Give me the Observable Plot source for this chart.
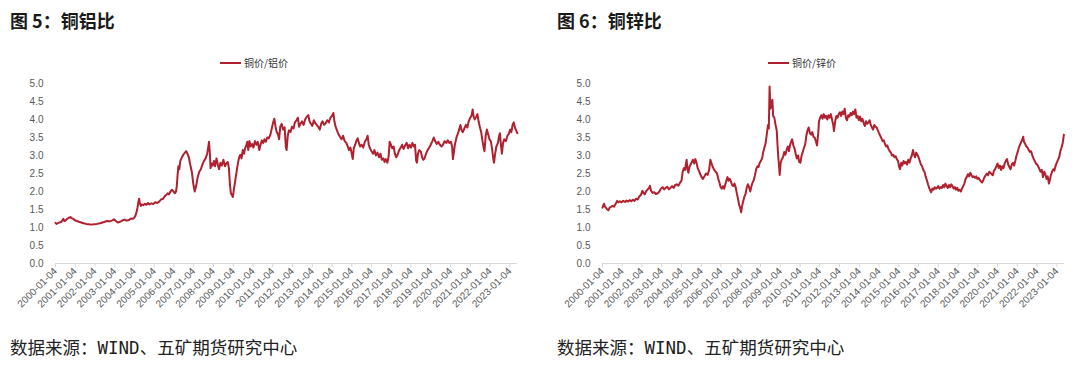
<!DOCTYPE html>
<html>
<head>
<meta charset="utf-8">
<script src="https://cdn.jsdelivr.net/npm/d3@7"></script>
<script src="https://cdn.jsdelivr.net/npm/@observablehq/plot@0.6"></script>
<style>
  html, body { margin: 0; padding: 0; background: #fff; }
  body { width: 1080px; height: 367px; position: relative; overflow: hidden; }
  .title { position: absolute; font-family: "Noto Sans CJK SC", sans-serif; font-weight: bold; font-size: 18px; line-height: 18px; color: #1a1a1a; white-space: nowrap; }
  .legend { position: absolute; font-family: "Noto Sans CJK SC", sans-serif; font-size: 10px; line-height: 12px; color: #333; display: flex; align-items: center; white-space: nowrap; }
  .legend .sw { display: inline-block; width: 21px; height: 2px; background: #B0202E; margin-right: 3px; }
  .footer { position: absolute; font-family: "DejaVu Sans Mono", "Noto Sans CJK SC", monospace; font-size: 17.5px; line-height: 18px; color: #222; white-space: nowrap; }
  .chart { position: absolute; top: 70px; }
</style>
</head>
<body>
<div class="title" style="left:10px; top:11px;">图 5：铜铝比</div>
<div class="legend" style="left:220px; top:57px;"><span class="sw"></span><span>铜价/铝价</span></div>
<div class="chart" id="c1" style="left:0px;"></div>
<div class="footer" style="left:10px; top:339px;">数据来源：WIND、五矿期货研究中心</div>

<div class="title" style="left:557px; top:11px;">图 6：铜锌比</div>
<div class="legend" style="left:768px; top:57px;"><span class="sw"></span><span>铜价/锌价</span></div>
<div class="chart" id="c2" style="left:547px;"></div>
<div class="footer" style="left:557px; top:339px;">数据来源：WIND、五矿期货研究中心</div>

<script>
// ---- data (decimal year, ratio) ----
const cuAl = [
[2000.00,1.13],[2000.05,1.10],[2000.12,1.12],[2000.20,1.14],[2000.28,1.15],[2000.35,1.20],[2000.40,1.24],[2000.45,1.18],
[2000.52,1.20],[2000.60,1.24],[2000.68,1.27],[2000.76,1.29],[2000.82,1.26],[2000.90,1.24],[2000.98,1.20],[2001.08,1.18],
[2001.18,1.16],[2001.30,1.14],[2001.42,1.12],[2001.55,1.10],[2001.68,1.09],[2001.80,1.08],[2001.95,1.09],[2002.10,1.10],
[2002.25,1.12],[2002.38,1.14],[2002.50,1.16],[2002.62,1.18],[2002.75,1.17],[2002.88,1.20],[2002.96,1.23],[2003.05,1.18],
[2003.15,1.14],[2003.28,1.16],[2003.40,1.20],[2003.50,1.22],[2003.60,1.19],[2003.72,1.21],[2003.82,1.25],[2003.92,1.24],
[2004.00,1.28],[2004.06,1.35],[2004.10,1.42],[2004.15,1.55],[2004.20,1.72],[2004.23,1.80],[2004.27,1.68],[2004.32,1.60],
[2004.38,1.64],[2004.45,1.62],[2004.52,1.66],[2004.60,1.63],[2004.68,1.68],[2004.75,1.64],[2004.85,1.67],[2004.95,1.65],
[2005.05,1.70],[2005.15,1.68],[2005.25,1.72],[2005.35,1.78],[2005.45,1.80],[2005.52,1.86],[2005.60,1.90],[2005.68,1.95],
[2005.75,1.92],[2005.82,2.00],[2005.90,2.05],[2005.97,2.00],[2006.05,1.95],[2006.10,2.00],[2006.14,2.15],[2006.18,2.45],
[2006.22,2.70],[2006.27,2.62],[2006.32,2.85],[2006.40,2.95],[2006.47,3.02],[2006.55,3.08],[2006.62,3.12],[2006.68,3.05],
[2006.75,2.95],[2006.82,2.75],[2006.90,2.55],[2006.98,2.20],[2007.05,2.00],[2007.12,2.15],[2007.20,2.40],[2007.28,2.55],
[2007.36,2.62],[2007.44,2.75],[2007.52,2.85],[2007.60,2.92],[2007.68,3.05],[2007.73,3.22],[2007.77,3.38],[2007.81,3.10],
[2007.85,2.65],[2007.90,2.78],[2007.96,2.72],[2008.02,2.85],[2008.08,2.70],[2008.15,2.92],[2008.22,2.75],[2008.28,2.62],
[2008.35,2.80],[2008.42,2.72],[2008.50,2.88],[2008.58,2.70],[2008.65,2.78],[2008.72,2.82],[2008.78,2.65],[2008.83,2.20],
[2008.88,1.95],[2008.93,1.90],[2008.98,1.85],[2009.03,2.05],[2009.10,2.30],[2009.17,2.55],[2009.24,2.80],[2009.30,2.95],
[2009.36,3.02],[2009.42,2.92],[2009.48,3.15],[2009.54,3.05],[2009.60,3.20],[2009.66,3.28],[2009.71,3.38],[2009.76,3.15],
[2009.82,3.40],[2009.88,3.25],[2009.95,3.32],[2010.02,3.22],[2010.10,3.40],[2010.17,3.30],[2010.24,3.38],[2010.32,3.15],
[2010.38,3.30],[2010.45,3.42],[2010.52,3.35],[2010.58,3.45],[2010.65,3.38],[2010.72,3.50],[2010.80,3.48],[2010.88,3.58],
[2010.95,3.75],[2011.02,3.92],[2011.08,4.02],[2011.14,3.80],[2011.20,3.65],[2011.26,3.60],[2011.32,3.45],[2011.38,3.80],
[2011.45,3.88],[2011.52,3.72],[2011.60,3.78],[2011.66,3.25],[2011.70,3.15],[2011.76,3.55],[2011.82,3.70],[2011.90,3.65],
[2011.97,3.80],[2012.05,3.75],[2012.12,3.92],[2012.20,3.98],[2012.27,4.05],[2012.33,3.80],[2012.40,3.88],[2012.48,3.95],
[2012.56,3.85],[2012.64,4.00],[2012.72,4.08],[2012.80,4.12],[2012.86,3.95],[2012.93,3.88],[2013.00,3.82],[2013.08,3.98],
[2013.15,3.90],[2013.22,3.85],[2013.30,3.80],[2013.38,3.72],[2013.45,3.88],[2013.52,3.95],[2013.60,3.85],[2013.68,3.90],
[2013.76,3.98],[2013.84,3.92],[2013.92,4.05],[2014.00,4.10],[2014.07,4.18],[2014.12,3.95],[2014.18,3.80],[2014.25,3.70],
[2014.32,3.60],[2014.40,3.52],[2014.48,3.45],[2014.56,3.55],[2014.64,3.40],[2014.72,3.35],[2014.80,3.25],[2014.86,3.15],
[2014.93,3.22],[2015.00,3.05],[2015.05,2.90],[2015.10,3.20],[2015.17,3.30],[2015.24,3.42],[2015.30,3.48],[2015.36,3.35],
[2015.42,3.25],[2015.50,3.30],[2015.58,3.22],[2015.66,3.38],[2015.74,3.45],[2015.80,3.55],[2015.86,3.30],[2015.92,3.20],
[2016.00,3.12],[2016.08,3.05],[2016.15,3.15],[2016.22,3.00],[2016.30,3.08],[2016.38,2.95],[2016.45,3.05],[2016.52,2.88],
[2016.60,2.92],[2016.66,2.82],[2016.72,2.90],[2016.80,2.80],[2016.86,2.95],[2016.92,3.38],[2016.98,3.30],[2017.05,3.20],
[2017.12,3.25],[2017.18,3.05],[2017.25,2.95],[2017.32,3.02],[2017.40,3.15],[2017.48,3.22],[2017.55,3.30],[2017.62,3.18],
[2017.70,3.28],[2017.78,3.35],[2017.85,3.20],[2017.92,3.30],[2018.00,3.22],[2018.07,3.35],[2018.14,3.25],[2018.20,3.30],
[2018.26,2.85],[2018.30,2.80],[2018.35,3.05],[2018.42,3.15],[2018.50,3.10],[2018.56,2.95],[2018.62,2.88],[2018.68,2.92],
[2018.76,3.05],[2018.84,3.15],[2018.92,3.22],[2019.00,3.30],[2019.08,3.40],[2019.15,3.50],[2019.22,3.40],[2019.30,3.32],
[2019.38,3.38],[2019.46,3.30],[2019.54,3.25],[2019.62,3.30],[2019.70,3.40],[2019.78,3.35],[2019.86,3.42],[2019.94,3.35],
[2020.02,3.38],[2020.08,3.25],[2020.12,2.90],[2020.16,3.05],[2020.22,3.30],[2020.30,3.50],[2020.38,3.62],[2020.45,3.75],
[2020.50,3.85],[2020.56,3.70],[2020.62,3.65],[2020.70,3.75],[2020.78,3.85],[2020.85,3.78],[2020.92,3.95],[2021.00,4.05],
[2021.07,4.12],[2021.12,4.28],[2021.16,4.10],[2021.22,4.00],[2021.30,4.08],[2021.36,4.15],[2021.42,3.95],[2021.48,3.80],
[2021.55,3.65],[2021.62,3.40],[2021.68,3.20],[2021.72,3.12],[2021.78,3.55],[2021.84,3.72],[2021.90,3.60],[2021.97,3.45],
[2022.04,3.40],[2022.10,3.20],[2022.16,2.92],[2022.20,2.80],[2022.26,3.05],[2022.32,3.25],[2022.40,3.35],[2022.46,3.55],
[2022.50,3.62],[2022.55,3.30],[2022.60,3.05],[2022.66,3.35],[2022.72,3.45],[2022.80,3.40],[2022.88,3.55],[2022.95,3.60],
[2023.02,3.72],[2023.08,3.65],[2023.14,3.85],[2023.20,3.92],[2023.26,3.78],[2023.32,3.70],[2023.38,3.62]
];

const cuZn = [
[2000.00,1.55],[2000.04,1.62],[2000.08,1.66],[2000.12,1.58],[2000.18,1.55],[2000.24,1.50],[2000.30,1.48],[2000.36,1.55],
[2000.42,1.57],[2000.50,1.60],[2000.58,1.58],[2000.66,1.65],[2000.74,1.74],[2000.80,1.70],[2000.88,1.73],[2000.96,1.70],
[2001.05,1.74],[2001.14,1.71],[2001.22,1.75],[2001.30,1.72],[2001.38,1.76],[2001.46,1.73],[2001.54,1.77],[2001.62,1.74],
[2001.70,1.80],[2001.78,1.78],[2001.86,1.86],[2001.94,1.90],[2002.02,2.02],[2002.08,1.95],[2002.14,1.92],[2002.20,2.00],
[2002.28,2.05],[2002.36,2.10],[2002.40,2.16],[2002.46,2.02],[2002.54,1.96],[2002.62,1.98],[2002.70,1.93],[2002.80,1.95],
[2002.88,2.00],[2002.96,2.08],[2003.04,2.12],[2003.12,2.06],[2003.20,2.10],[2003.28,2.13],[2003.36,2.06],[2003.44,2.10],
[2003.52,2.15],[2003.60,2.10],[2003.68,2.18],[2003.76,2.20],[2003.84,2.16],[2003.92,2.24],[2004.00,2.30],[2004.06,2.55],
[2004.12,2.65],[2004.18,2.60],[2004.22,2.75],[2004.26,2.88],[2004.30,2.62],[2004.35,2.52],[2004.40,2.68],[2004.46,2.75],
[2004.52,2.82],[2004.58,2.88],[2004.64,2.78],[2004.70,2.90],[2004.76,2.80],[2004.82,2.65],[2004.88,2.58],[2004.95,2.48],
[2005.02,2.40],[2005.08,2.35],[2005.16,2.42],[2005.24,2.50],[2005.32,2.46],[2005.40,2.60],[2005.46,2.88],[2005.52,2.78],
[2005.58,2.68],[2005.64,2.62],[2005.72,2.55],[2005.80,2.50],[2005.86,2.35],[2005.92,2.25],[2005.98,2.12],[2006.04,2.08],
[2006.10,2.15],[2006.16,2.08],[2006.22,2.20],[2006.28,2.32],[2006.33,2.40],[2006.38,2.30],[2006.44,2.35],[2006.50,2.28],
[2006.56,2.18],[2006.62,2.15],[2006.68,2.22],[2006.74,2.12],[2006.80,1.95],[2006.86,1.80],[2006.92,1.62],[2006.97,1.55],
[2007.02,1.42],[2007.06,1.58],[2007.12,1.72],[2007.18,1.85],[2007.25,1.95],[2007.30,2.10],[2007.36,2.20],[2007.42,2.12],
[2007.48,2.00],[2007.54,2.15],[2007.60,2.25],[2007.66,2.32],[2007.72,2.45],[2007.78,2.62],[2007.84,2.70],[2007.90,2.68],
[2007.96,2.80],[2008.02,2.85],[2008.08,2.92],[2008.14,3.10],[2008.20,3.22],[2008.26,3.35],[2008.32,3.60],[2008.38,3.85],
[2008.42,3.75],[2008.46,4.92],[2008.50,4.30],[2008.55,4.40],[2008.60,4.55],[2008.64,4.10],[2008.70,4.05],[2008.76,3.85],
[2008.82,3.70],[2008.86,3.30],[2008.90,2.95],[2008.94,2.70],[2008.97,2.46],[2009.02,2.80],[2009.08,2.90],[2009.14,2.95],
[2009.20,3.10],[2009.26,3.02],[2009.32,3.15],[2009.38,3.25],[2009.44,3.12],[2009.50,3.30],[2009.56,3.40],[2009.60,3.45],
[2009.66,3.28],[2009.72,3.20],[2009.78,3.05],[2009.84,2.92],[2009.90,3.00],[2009.96,2.82],[2010.02,2.80],[2010.08,3.00],
[2010.14,3.10],[2010.20,3.22],[2010.26,3.30],[2010.32,3.55],[2010.38,3.70],[2010.44,3.78],[2010.50,3.62],[2010.56,3.58],
[2010.62,3.65],[2010.68,3.52],[2010.74,3.50],[2010.80,3.40],[2010.86,3.28],[2010.92,3.60],[2010.96,3.95],[2011.02,4.05],
[2011.08,4.12],[2011.14,4.02],[2011.20,4.15],[2011.26,4.05],[2011.32,4.10],[2011.38,4.00],[2011.44,4.12],[2011.50,4.05],
[2011.56,4.15],[2011.62,4.00],[2011.68,3.85],[2011.72,3.68],[2011.78,3.95],[2011.84,4.10],[2011.90,4.05],[2011.96,4.15],
[2012.02,4.20],[2012.08,4.10],[2012.14,4.22],[2012.20,4.15],[2012.26,4.30],[2012.32,4.05],[2012.38,3.98],[2012.44,4.12],
[2012.50,4.08],[2012.56,4.18],[2012.62,4.12],[2012.68,4.22],[2012.74,4.15],[2012.80,4.28],[2012.86,4.05],[2012.92,4.10],
[2012.98,3.98],[2013.04,4.08],[2013.10,3.95],[2013.16,4.02],[2013.22,3.90],[2013.28,3.82],[2013.34,3.95],[2013.40,3.88],
[2013.46,3.92],[2013.52,3.98],[2013.58,3.85],[2013.64,3.78],[2013.70,3.72],[2013.76,3.85],[2013.82,3.80],[2013.88,3.78],
[2013.94,3.70],[2014.00,3.62],[2014.06,3.55],[2014.12,3.48],[2014.18,3.40],[2014.24,3.42],[2014.30,3.32],[2014.36,3.25],
[2014.42,3.28],[2014.48,3.18],[2014.54,3.12],[2014.60,3.08],[2014.66,3.00],[2014.72,3.02],[2014.78,2.95],[2014.84,2.98],
[2014.90,2.90],[2014.96,2.85],[2015.02,2.68],[2015.06,2.62],[2015.12,2.80],[2015.18,2.72],[2015.24,2.85],[2015.30,2.78],
[2015.36,2.82],[2015.42,2.75],[2015.48,2.88],[2015.54,2.80],[2015.60,2.92],[2015.66,3.00],[2015.72,3.15],[2015.76,3.05],
[2015.82,2.95],[2015.88,3.08],[2015.94,3.02],[2016.00,2.95],[2016.06,2.85],[2016.12,2.75],[2016.18,2.70],[2016.24,2.60],
[2016.30,2.55],[2016.36,2.42],[2016.42,2.32],[2016.48,2.20],[2016.54,2.10],[2016.60,2.02],[2016.64,1.98],[2016.70,2.08],
[2016.76,2.05],[2016.82,2.12],[2016.88,2.08],[2016.94,2.10],[2017.00,2.15],[2017.06,2.08],[2017.12,2.12],[2017.18,2.10],
[2017.24,2.18],[2017.30,2.12],[2017.36,2.22],[2017.42,2.15],[2017.48,2.10],[2017.54,2.18],[2017.60,2.12],[2017.66,2.20],
[2017.72,2.15],[2017.78,2.08],[2017.84,2.12],[2017.90,2.05],[2017.96,2.10],[2018.02,2.02],[2018.08,2.05],[2018.14,2.00],
[2018.20,2.08],[2018.26,2.15],[2018.32,2.22],[2018.38,2.35],[2018.44,2.40],[2018.50,2.48],[2018.56,2.42],[2018.62,2.52],
[2018.68,2.45],[2018.74,2.40],[2018.80,2.42],[2018.86,2.38],[2018.92,2.42],[2018.98,2.35],[2019.04,2.38],[2019.10,2.32],
[2019.16,2.28],[2019.22,2.25],[2019.28,2.32],[2019.34,2.40],[2019.40,2.45],[2019.46,2.50],[2019.52,2.45],[2019.58,2.55],
[2019.64,2.52],[2019.70,2.48],[2019.76,2.45],[2019.82,2.58],[2019.88,2.62],[2019.94,2.70],[2020.00,2.78],[2020.06,2.65],
[2020.12,2.72],[2020.18,2.60],[2020.24,2.70],[2020.30,2.65],[2020.36,2.78],[2020.42,2.85],[2020.48,2.90],[2020.54,2.75],
[2020.60,2.68],[2020.66,2.62],[2020.72,2.75],[2020.78,2.80],[2020.84,2.72],[2020.90,2.85],[2020.96,3.00],[2021.02,3.10],
[2021.08,3.22],[2021.14,3.30],[2021.20,3.38],[2021.26,3.45],[2021.30,3.52],[2021.34,3.38],[2021.40,3.32],[2021.46,3.25],
[2021.52,3.22],[2021.58,3.15],[2021.64,3.10],[2021.70,3.12],[2021.76,3.00],[2021.82,2.92],[2021.88,2.85],[2021.94,2.78],
[2022.00,2.75],[2022.06,2.70],[2022.12,2.62],[2022.18,2.55],[2022.24,2.60],[2022.30,2.40],[2022.36,2.55],[2022.42,2.48],
[2022.48,2.35],[2022.54,2.42],[2022.60,2.22],[2022.64,2.30],[2022.70,2.45],[2022.76,2.55],[2022.82,2.62],[2022.88,2.58],
[2022.94,2.72],[2023.00,2.80],[2023.06,2.88],[2023.12,2.95],[2023.18,3.12],[2023.24,3.22],[2023.30,3.35],[2023.36,3.58]
];

const xTickLabels = ["2000-01-04","2001-01-04","2002-01-04","2003-01-04","2004-01-04","2005-01-04","2006-01-04","2007-01-04",
  "2008-01-04","2009-01-04","2010-01-04","2011-01-04","2012-01-04","2013-01-04","2014-01-04","2015-01-04",
  "2016-01-04","2017-01-04","2018-01-04","2019-01-04","2020-01-04","2021-01-04","2022-01-04","2023-01-04"];
const yTicks = [0, 0.5, 1, 1.5, 2, 2.5, 3, 3.5, 4, 4.5, 5];
const lastYear = 2023.39;

// ---- helpers ----
const T0 = Date.UTC(2000, 0, 4);
const toDate = t => new Date(T0 + (t - 2000) * 365.2425 * 86400000);
const xTicks = xTickLabels.map(s => new Date(s + "T00:00:00Z"));
const fmt = d3.utcFormat("%Y-%m-%d");
const RED = "#B0202E";

function chart(data) {
  return Plot.plot({
    width: 533,
    height: 250,
    marginTop: 13,
    marginBottom: 57,
    marginLeft: 55,
    marginRight: 16,
    style: { fontFamily: "'Liberation Sans', Arial, sans-serif", fontSize: "10px", color: "#595959", background: "transparent", overflow: "visible" },
    x: { type: "utc", domain: [xTicks[0], toDate(lastYear)] },
    y: { domain: [0, 5] },
    marks: [
      Plot.axisY({ ticks: yTicks, tickSize: 0, tickPadding: 12, tickFormat: d => d.toFixed(1), label: null, fill: "#595959" }),
      Plot.ruleY([0], { stroke: "#d9d9d9", strokeWidth: 1 }),
      Plot.axisX({ ticks: xTicks, tickFormat: fmt, tickRotate: -45, tickSize: 4, tickPadding: 2, label: null, stroke: "#d9d9d9", fill: "#595959" }),
      Plot.line(data, { x: d => toDate(d[0]), y: d => d[1], stroke: RED, strokeWidth: 2, strokeLinejoin: "round" })
    ]
  });
}

document.getElementById("c1").appendChild(chart(cuAl));
document.getElementById("c2").appendChild(chart(cuZn));
</script>
</body>
</html>
